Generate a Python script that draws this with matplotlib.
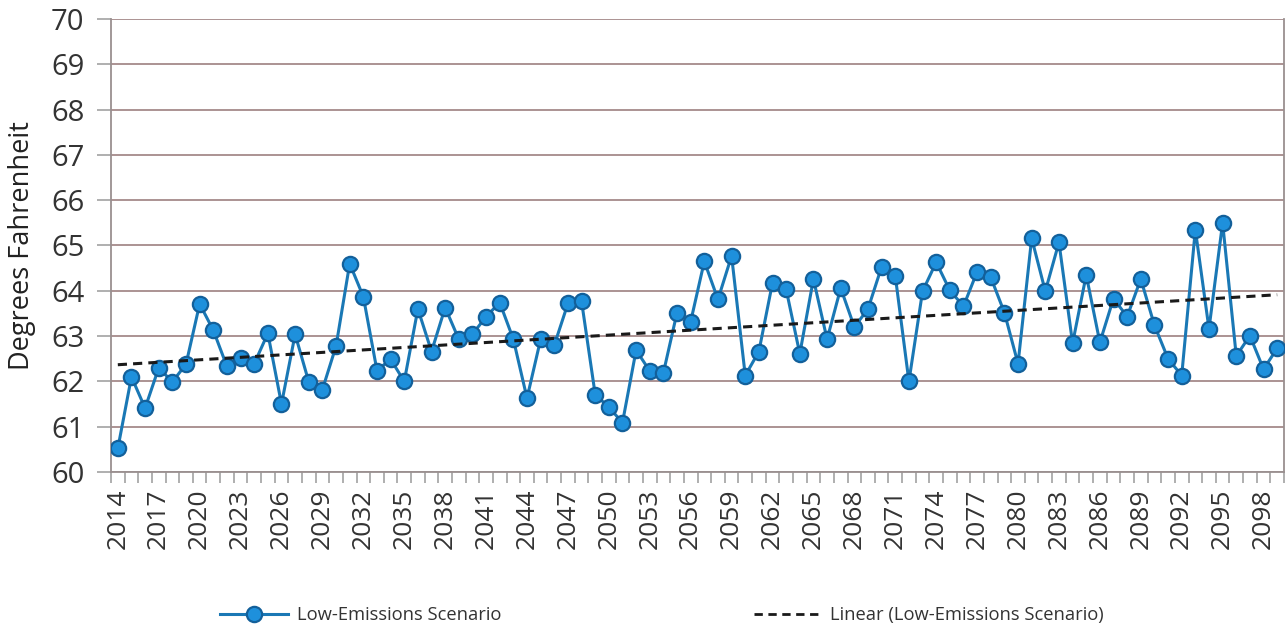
import numpy as np
import matplotlib
matplotlib.use("Agg")
import matplotlib.pyplot as plt
from matplotlib.lines import Line2D

plt.rcParams['font.family'] = ['Open Sans', 'DejaVu Sans']

years = list(range(2014, 2100))
temps = [60.52, 62.10, 61.41, 62.30, 61.99, 62.38, 63.71, 63.13, 62.33, 62.52,
         62.39, 63.06, 61.50, 63.04, 61.99, 61.82, 62.78, 64.60, 63.87, 62.24,
         62.49, 62.00, 63.60, 62.66, 63.63, 62.93, 63.04, 63.43, 63.74, 62.93,
         61.63, 62.93, 62.80, 63.72, 63.77, 61.71, 61.43, 61.09, 62.69, 62.23,
         62.19, 63.52, 63.32, 64.65, 63.81, 64.77, 62.13, 62.66, 64.18, 64.03,
         62.61, 64.26, 62.93, 64.06, 63.20, 63.60, 64.53, 64.33, 62.00, 63.99,
         64.63, 64.01, 63.66, 64.42, 64.30, 63.52, 62.39, 65.16, 63.99, 65.07,
         62.84, 64.35, 62.86, 63.83, 63.43, 64.26, 63.24, 62.50, 62.13, 65.35,
         63.16, 65.50, 62.56, 63.01, 62.27, 62.73]
series_label = "Low-Emissions Scenario"
trend_label = "Linear (Low-Emissions Scenario)"
y_ticks = list(range(60, 71))

fig = plt.figure(figsize=(12.88, 6.29), dpi=100)
ax = fig.add_axes([111/1288, 1-472/629, (1284-111)/1288, (472-19)/629])

x = np.arange(len(years))
coef = np.polyfit(x, temps, 1)
trend = np.polyval(coef, x)

grid_c = '#a58a8a'
ax.set_ylim(60, 70)
ax.set_xlim(-0.5, len(years) - 0.5)
ax.set_yticks(y_ticks)
ax.yaxis.grid(True, color=grid_c, lw=1.3)
ax.set_axisbelow(True)

ax.plot(x, trend, color='#1a1a1a', lw=2.2, ls=(0, (3, 2)), zorder=4)
ax.plot(x, temps, color='#1a78b5', lw=2.2, marker='o', markersize=11,
        markerfacecolor='#1e90dc', markeredgecolor='#13609a', markeredgewidth=1.6, zorder=3)

ax.set_xticks(x[::3])
ax.set_xticklabels([str(y) for y in years[::3]], rotation=90)
ax.set_xticks(np.arange(-0.5, len(years), 1), minor=True)
ax.tick_params(axis='x', which='major', length=0, pad=12, labelsize=19, labelcolor='#333333')
ax.tick_params(axis='x', which='minor', length=8, width=1.1, color='#9a9a9a')
ax.tick_params(axis='y', length=10, width=1.1, color='#9a9a9a', labelsize=21,
               labelcolor='#333333', pad=9)

for s in ['left', 'right', 'bottom', 'top']:
    ax.spines[s].set_color('#9a9090')
    ax.spines[s].set_linewidth(1.3)
ax.spines['top'].set_visible(False)

ax.set_ylabel("Degrees Fahrenheit", fontsize=19.5, color='#222222')
ax.yaxis.set_label_coords(-0.064, 0.5)

h1 = Line2D([], [], color='#1a78b5', lw=2.2, marker='o', markersize=11,
            markerfacecolor='#1e90dc', markeredgecolor='#13609a', markeredgewidth=1.6)
h2 = Line2D([], [], color='#1a1a1a', lw=2.0, ls=(0, (3, 2)))
fig.legend([h1, h2], [series_label, trend_label], loc='center',
           bbox_to_anchor=(662/1288, 1-615/629), ncol=2, frameon=False,
           fontsize=13.2, handlelength=3.7, columnspacing=13.8, handletextpad=0.45,
           labelcolor='#333333')

fig.savefig("out.png", dpi=100, facecolor='white')
